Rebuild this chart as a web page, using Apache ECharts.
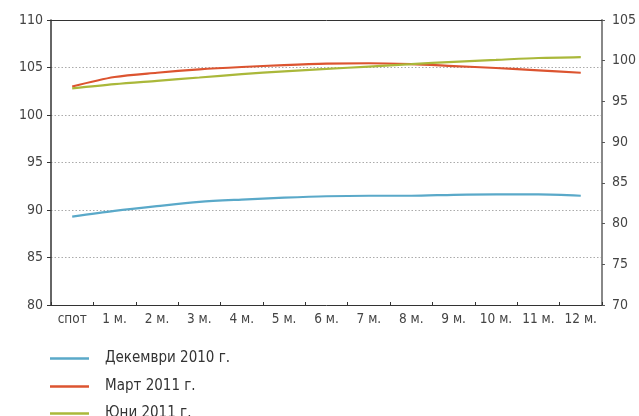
<!DOCTYPE html>
<html>
<head>
<meta charset="utf-8">
<script src="https://cdn.jsdelivr.net/npm/echarts@6/dist/echarts.min.js"></script>
<style>
  html, body { margin: 0; padding: 0; background: #fff; overflow: hidden; }
  #chart { width: 639px; height: 416px; }
</style>
</head>
<body>
<div id="chart"></div>
<script>
// Forward curve terms
const categories = ['спот', '1 м.', '2 м.', '3 м.', '4 м.', '5 м.', '6 м.', '7 м.', '8 м.', '9 м.', '10 м.', '11 м.', '12 м.'];

// Curve values by date of observation
const dec2010 = [89.3, 89.9, 90.4, 90.85, 91.1, 91.3, 91.45, 91.5, 91.5, 91.6, 91.65, 91.65, 91.5];
const mar2011 = [103.0, 104.0, 104.45, 104.8, 105.05, 105.25, 105.4, 105.45, 105.35, 105.15, 104.95, 104.7, 104.45];
const jun2011 = [102.8, 103.25, 103.6, 103.95, 104.3, 104.6, 104.85, 105.1, 105.35, 105.6, 105.8, 106.0, 106.1];

const seriesNames = ['Декември 2010 г.', 'Март 2011 г.', 'Юни 2011 г.'];
const colors = ['#5aa9c9', '#dc5430', '#aab83a'];

const FONT = "'Liberation Sans Narrow', 'DejaVu Sans Condensed', 'Roboto Condensed', sans-serif";

const chart = echarts.init(document.getElementById('chart'), null, { renderer: 'canvas' });

function lineSeries(name, data, color) {
  return {
    name: name,
    type: 'line',
    data: data,
    yAxisIndex: 0,
    xAxisIndex: 0,
    smooth: 0.3,
    symbol: 'none',
    lineStyle: { color: color, width: 2.2 },
    itemStyle: { color: color },
    z: 3
  };
}

// one legend block per series, stacked down the left side
function legendRow(name, top) {
  return {
    orient: 'vertical',
    left: 50,
    top: top,
    padding: 0,
    itemWidth: 39,
    itemHeight: 2.5,
    icon: 'rect',
    data: [name],
    textStyle: { fontFamily: FONT, fontSize: 15, color: '#333', padding: [0, 0, 0, 11] }
  };
}

chart.setOption({
  animation: false,
  backgroundColor: '#fff',
  textStyle: { fontFamily: FONT },
  color: colors,
  grid: { left: 51, right: 31, top: 20, bottom: 111, containLabel: false },
  legend: [
    legendRow(seriesNames[0], 351),
    legendRow(seriesNames[1], 379),
    legendRow(seriesNames[2], 406)
  ],
  xAxis: [
    {
      type: 'category',
      data: categories,
      boundaryGap: true,
      position: 'bottom',
      axisLine: { lineStyle: { color: '#333', width: 1 } },
      axisTick: { show: true, inside: true, length: 3, alignWithLabel: false, lineStyle: { color: '#333' } },
      axisLabel: { fontFamily: FONT, fontSize: 13.5, color: '#444', margin: 7 },
      splitLine: { show: false }
    },
    {
      // top frame edge
      type: 'category',
      data: categories,
      position: 'top',
      axisLine: { lineStyle: { color: '#333', width: 1 } },
      axisTick: { show: false },
      axisLabel: { show: false },
      splitLine: { show: false }
    }
  ],
  yAxis: [
    {
      type: 'value',
      min: 80,
      max: 110,
      interval: 5,
      position: 'left',
      axisLine: { show: true, lineStyle: { color: '#333', width: 1.5 } },
      axisTick: { show: true, length: 4, lineStyle: { color: '#333' } },
      axisLabel: { fontFamily: FONT, fontSize: 14, color: '#444', margin: 8 },
      splitLine: { show: true, lineStyle: { color: '#aaa', type: [1.5, 2], width: 1 } }
    },
    {
      type: 'value',
      min: 70,
      max: 105,
      interval: 5,
      position: 'right',
      axisLine: { show: true, lineStyle: { color: '#888', width: 2 } },
      axisTick: { show: true, length: 3, lineStyle: { color: '#555' } },
      axisLabel: { fontFamily: FONT, fontSize: 14, color: '#444', margin: 10 },
      splitLine: { show: false }
    }
  ],
  series: [
    lineSeries(seriesNames[0], dec2010, colors[0]),
    lineSeries(seriesNames[1], mar2011, colors[1]),
    lineSeries(seriesNames[2], jun2011, colors[2])
  ]
});
</script>
</body>
</html>
